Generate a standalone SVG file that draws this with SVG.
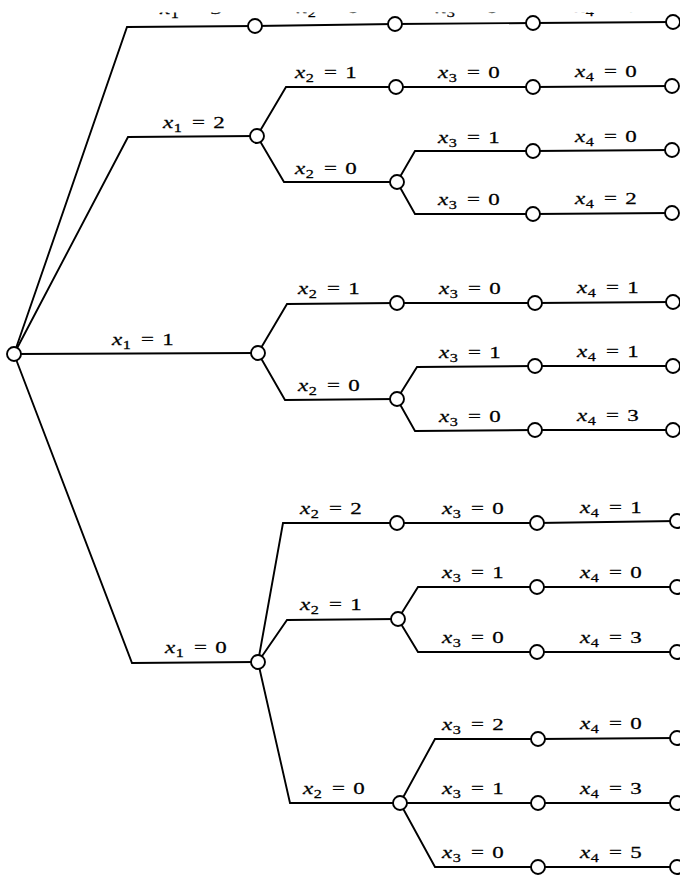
<svg xmlns="http://www.w3.org/2000/svg" width="680" height="876" viewBox="0 0 680 876">
<style>
.e{fill:none;stroke:#000;stroke-width:1.9;stroke-linejoin:miter}
.n{fill:#fff;stroke:#000;stroke-width:1.9}
.lb{font-family:"Liberation Serif","Times New Roman",serif;font-size:17px;fill:#000;stroke:#000;stroke-width:0.25}
.v{font-style:italic}
.s{font-size:12px}
</style>
<defs>
<clipPath id="topclip"><rect x="0" y="12.5" width="680" height="20"/></clipPath>
</defs>
<rect width="680" height="876" fill="#fff"/>
<g id="connectors">
<path class="e" d="M14,354 L127,27 L255,26"/>
<path class="e" d="M255,26 L395,24"/>
<path class="e" d="M395,24 L533,23"/>
<path class="e" d="M533,23 L673,22"/>
<path class="e" d="M14,354 L128,137 L257,136"/>
<path class="e" d="M257,136 L286,87 L396,87"/>
<path class="e" d="M396,87 L533,87"/>
<path class="e" d="M533,87 L672,86"/>
<path class="e" d="M257,136 L284,182 L397,182"/>
<path class="e" d="M397,182 L415,151 L533,151"/>
<path class="e" d="M533,151 L672,150"/>
<path class="e" d="M397,182 L415,214 L533,214"/>
<path class="e" d="M533,214 L672,213"/>
<path class="e" d="M14,354 L258,353"/>
<path class="e" d="M258,353 L287,304 L397,303"/>
<path class="e" d="M397,303 L535,303"/>
<path class="e" d="M535,303 L673,302"/>
<path class="e" d="M258,353 L285,400 L397,399"/>
<path class="e" d="M397,399 L417,367 L535,366"/>
<path class="e" d="M535,366 L673,366"/>
<path class="e" d="M397,399 L415,431 L535,430"/>
<path class="e" d="M535,430 L673,430"/>
<path class="e" d="M14,354 L132,663 L258,662"/>
<path class="e" d="M258,662 L283,523 L397,523"/>
<path class="e" d="M397,523 L537,523"/>
<path class="e" d="M537,523 L677,521"/>
<path class="e" d="M258,662 L287,620 L398,619"/>
<path class="e" d="M398,619 L418,587 L537,587"/>
<path class="e" d="M537,587 L677,587"/>
<path class="e" d="M398,619 L418,652 L537,652"/>
<path class="e" d="M537,652 L677,652"/>
<path class="e" d="M258,662 L290,803 L400,803"/>
<path class="e" d="M400,803 L435,739 L538,739"/>
<path class="e" d="M538,739 L677,738"/>
<path class="e" d="M400,803 L538,803"/>
<path class="e" d="M538,803 L677,803"/>
<path class="e" d="M400,803 L435,867 L538,867"/>
<path class="e" d="M538,867 L677,867"/>
</g>
<g id="labels">
<g clip-path="url(#topclip)">
<text class="lb" transform="translate(160,14) scale(1.35,1)"><tspan class="v">x</tspan><tspan class="s" dy="4" dx="0.5">1</tspan><tspan dy="-4" dx="7.5">=</tspan><tspan dx="6">3</tspan></text>
<text class="lb" transform="translate(297,13) scale(1.35,1)"><tspan class="v">x</tspan><tspan class="s" dy="4" dx="0.5">2</tspan><tspan dy="-4" dx="7.5">=</tspan><tspan dx="6">0</tspan></text>
<text class="lb" transform="translate(436,13) scale(1.35,1)"><tspan class="v">x</tspan><tspan class="s" dy="4" dx="0.5">3</tspan><tspan dy="-4" dx="7.5">=</tspan><tspan dx="6">0</tspan></text>
<text class="lb" transform="translate(575,12) scale(1.35,1)"><tspan class="v">x</tspan><tspan class="s" dy="4" dx="0.5">4</tspan><tspan dy="-4" dx="7.5">=</tspan><tspan dx="6">0</tspan></text>
</g>
<text class="lb" transform="translate(163,128) scale(1.35,1)"><tspan class="v">x</tspan><tspan class="s" dy="4" dx="0.5">1</tspan><tspan dy="-4" dx="7.5">=</tspan><tspan dx="6">2</tspan></text>
<text class="lb" transform="translate(295,78) scale(1.35,1)"><tspan class="v">x</tspan><tspan class="s" dy="4" dx="0.5">2</tspan><tspan dy="-4" dx="7.5">=</tspan><tspan dx="6">1</tspan></text>
<text class="lb" transform="translate(438,78) scale(1.35,1)"><tspan class="v">x</tspan><tspan class="s" dy="4" dx="0.5">3</tspan><tspan dy="-4" dx="7.5">=</tspan><tspan dx="6">0</tspan></text>
<text class="lb" transform="translate(575,77) scale(1.35,1)"><tspan class="v">x</tspan><tspan class="s" dy="4" dx="0.5">4</tspan><tspan dy="-4" dx="7.5">=</tspan><tspan dx="6">0</tspan></text>
<text class="lb" transform="translate(295,174) scale(1.35,1)"><tspan class="v">x</tspan><tspan class="s" dy="4" dx="0.5">2</tspan><tspan dy="-4" dx="7.5">=</tspan><tspan dx="6">0</tspan></text>
<text class="lb" transform="translate(438,143) scale(1.35,1)"><tspan class="v">x</tspan><tspan class="s" dy="4" dx="0.5">3</tspan><tspan dy="-4" dx="7.5">=</tspan><tspan dx="6">1</tspan></text>
<text class="lb" transform="translate(575,142) scale(1.35,1)"><tspan class="v">x</tspan><tspan class="s" dy="4" dx="0.5">4</tspan><tspan dy="-4" dx="7.5">=</tspan><tspan dx="6">0</tspan></text>
<text class="lb" transform="translate(438,205) scale(1.35,1)"><tspan class="v">x</tspan><tspan class="s" dy="4" dx="0.5">3</tspan><tspan dy="-4" dx="7.5">=</tspan><tspan dx="6">0</tspan></text>
<text class="lb" transform="translate(575,204) scale(1.35,1)"><tspan class="v">x</tspan><tspan class="s" dy="4" dx="0.5">4</tspan><tspan dy="-4" dx="7.5">=</tspan><tspan dx="6">2</tspan></text>
<text class="lb" transform="translate(112,345) scale(1.35,1)"><tspan class="v">x</tspan><tspan class="s" dy="4" dx="0.5">1</tspan><tspan dy="-4" dx="7.5">=</tspan><tspan dx="6">1</tspan></text>
<text class="lb" transform="translate(298,294) scale(1.35,1)"><tspan class="v">x</tspan><tspan class="s" dy="4" dx="0.5">2</tspan><tspan dy="-4" dx="7.5">=</tspan><tspan dx="6">1</tspan></text>
<text class="lb" transform="translate(439,294) scale(1.35,1)"><tspan class="v">x</tspan><tspan class="s" dy="4" dx="0.5">3</tspan><tspan dy="-4" dx="7.5">=</tspan><tspan dx="6">0</tspan></text>
<text class="lb" transform="translate(577,293) scale(1.35,1)"><tspan class="v">x</tspan><tspan class="s" dy="4" dx="0.5">4</tspan><tspan dy="-4" dx="7.5">=</tspan><tspan dx="6">1</tspan></text>
<text class="lb" transform="translate(298,391) scale(1.35,1)"><tspan class="v">x</tspan><tspan class="s" dy="4" dx="0.5">2</tspan><tspan dy="-4" dx="7.5">=</tspan><tspan dx="6">0</tspan></text>
<text class="lb" transform="translate(439,358) scale(1.35,1)"><tspan class="v">x</tspan><tspan class="s" dy="4" dx="0.5">3</tspan><tspan dy="-4" dx="7.5">=</tspan><tspan dx="6">1</tspan></text>
<text class="lb" transform="translate(577,357) scale(1.35,1)"><tspan class="v">x</tspan><tspan class="s" dy="4" dx="0.5">4</tspan><tspan dy="-4" dx="7.5">=</tspan><tspan dx="6">1</tspan></text>
<text class="lb" transform="translate(439,422) scale(1.35,1)"><tspan class="v">x</tspan><tspan class="s" dy="4" dx="0.5">3</tspan><tspan dy="-4" dx="7.5">=</tspan><tspan dx="6">0</tspan></text>
<text class="lb" transform="translate(577,421) scale(1.35,1)"><tspan class="v">x</tspan><tspan class="s" dy="4" dx="0.5">4</tspan><tspan dy="-4" dx="7.5">=</tspan><tspan dx="6">3</tspan></text>
<text class="lb" transform="translate(165,653) scale(1.35,1)"><tspan class="v">x</tspan><tspan class="s" dy="4" dx="0.5">1</tspan><tspan dy="-4" dx="7.5">=</tspan><tspan dx="6">0</tspan></text>
<text class="lb" transform="translate(300,514) scale(1.35,1)"><tspan class="v">x</tspan><tspan class="s" dy="4" dx="0.5">2</tspan><tspan dy="-4" dx="7.5">=</tspan><tspan dx="6">2</tspan></text>
<text class="lb" transform="translate(442,514) scale(1.35,1)"><tspan class="v">x</tspan><tspan class="s" dy="4" dx="0.5">3</tspan><tspan dy="-4" dx="7.5">=</tspan><tspan dx="6">0</tspan></text>
<text class="lb" transform="translate(580,513) scale(1.35,1)"><tspan class="v">x</tspan><tspan class="s" dy="4" dx="0.5">4</tspan><tspan dy="-4" dx="7.5">=</tspan><tspan dx="6">1</tspan></text>
<text class="lb" transform="translate(300,610) scale(1.35,1)"><tspan class="v">x</tspan><tspan class="s" dy="4" dx="0.5">2</tspan><tspan dy="-4" dx="7.5">=</tspan><tspan dx="6">1</tspan></text>
<text class="lb" transform="translate(442,578) scale(1.35,1)"><tspan class="v">x</tspan><tspan class="s" dy="4" dx="0.5">3</tspan><tspan dy="-4" dx="7.5">=</tspan><tspan dx="6">1</tspan></text>
<text class="lb" transform="translate(580,578) scale(1.35,1)"><tspan class="v">x</tspan><tspan class="s" dy="4" dx="0.5">4</tspan><tspan dy="-4" dx="7.5">=</tspan><tspan dx="6">0</tspan></text>
<text class="lb" transform="translate(442,643) scale(1.35,1)"><tspan class="v">x</tspan><tspan class="s" dy="4" dx="0.5">3</tspan><tspan dy="-4" dx="7.5">=</tspan><tspan dx="6">0</tspan></text>
<text class="lb" transform="translate(580,643) scale(1.35,1)"><tspan class="v">x</tspan><tspan class="s" dy="4" dx="0.5">4</tspan><tspan dy="-4" dx="7.5">=</tspan><tspan dx="6">3</tspan></text>
<text class="lb" transform="translate(303,794) scale(1.35,1)"><tspan class="v">x</tspan><tspan class="s" dy="4" dx="0.5">2</tspan><tspan dy="-4" dx="7.5">=</tspan><tspan dx="6">0</tspan></text>
<text class="lb" transform="translate(442,730) scale(1.35,1)"><tspan class="v">x</tspan><tspan class="s" dy="4" dx="0.5">3</tspan><tspan dy="-4" dx="7.5">=</tspan><tspan dx="6">2</tspan></text>
<text class="lb" transform="translate(580,729) scale(1.35,1)"><tspan class="v">x</tspan><tspan class="s" dy="4" dx="0.5">4</tspan><tspan dy="-4" dx="7.5">=</tspan><tspan dx="6">0</tspan></text>
<text class="lb" transform="translate(442,794) scale(1.35,1)"><tspan class="v">x</tspan><tspan class="s" dy="4" dx="0.5">3</tspan><tspan dy="-4" dx="7.5">=</tspan><tspan dx="6">1</tspan></text>
<text class="lb" transform="translate(580,794) scale(1.35,1)"><tspan class="v">x</tspan><tspan class="s" dy="4" dx="0.5">4</tspan><tspan dy="-4" dx="7.5">=</tspan><tspan dx="6">3</tspan></text>
<text class="lb" transform="translate(442,858) scale(1.35,1)"><tspan class="v">x</tspan><tspan class="s" dy="4" dx="0.5">3</tspan><tspan dy="-4" dx="7.5">=</tspan><tspan dx="6">0</tspan></text>
<text class="lb" transform="translate(580,858) scale(1.35,1)"><tspan class="v">x</tspan><tspan class="s" dy="4" dx="0.5">4</tspan><tspan dy="-4" dx="7.5">=</tspan><tspan dx="6">5</tspan></text>
</g>
<g id="nodes">
<g id="n-root"><circle class="n" cx="14" cy="354" r="7"/></g>
<g id="n-a"><circle class="n" cx="255" cy="26" r="7"/></g>
<g id="n-a2"><circle class="n" cx="395" cy="24" r="7"/></g>
<g id="n-a3"><circle class="n" cx="533" cy="23" r="7"/></g>
<g id="n-a4"><circle class="n" cx="673" cy="22" r="7"/></g>
<g id="n-b"><circle class="n" cx="257" cy="136" r="7"/></g>
<g id="n-b1"><circle class="n" cx="396" cy="87" r="7"/></g>
<g id="n-b10"><circle class="n" cx="533" cy="87" r="7"/></g>
<g id="n-b100"><circle class="n" cx="672" cy="86" r="7"/></g>
<g id="n-b0"><circle class="n" cx="397" cy="182" r="7"/></g>
<g id="n-b01"><circle class="n" cx="533" cy="151" r="7"/></g>
<g id="n-b010"><circle class="n" cx="672" cy="150" r="7"/></g>
<g id="n-b00"><circle class="n" cx="533" cy="214" r="7"/></g>
<g id="n-b002"><circle class="n" cx="672" cy="213" r="7"/></g>
<g id="n-c"><circle class="n" cx="258" cy="353" r="7"/></g>
<g id="n-c1"><circle class="n" cx="397" cy="303" r="7"/></g>
<g id="n-c10"><circle class="n" cx="535" cy="303" r="7"/></g>
<g id="n-c101"><circle class="n" cx="673" cy="302" r="7"/></g>
<g id="n-c0"><circle class="n" cx="397" cy="399" r="7"/></g>
<g id="n-c01"><circle class="n" cx="535" cy="366" r="7"/></g>
<g id="n-c011"><circle class="n" cx="673" cy="366" r="7"/></g>
<g id="n-c00"><circle class="n" cx="535" cy="430" r="7"/></g>
<g id="n-c003"><circle class="n" cx="673" cy="430" r="7"/></g>
<g id="n-d"><circle class="n" cx="258" cy="662" r="7"/></g>
<g id="n-d2"><circle class="n" cx="397" cy="523" r="7"/></g>
<g id="n-d20"><circle class="n" cx="537" cy="523" r="7"/></g>
<g id="n-d201"><circle class="n" cx="677" cy="521" r="7"/></g>
<g id="n-d1"><circle class="n" cx="398" cy="619" r="7"/></g>
<g id="n-d11"><circle class="n" cx="537" cy="587" r="7"/></g>
<g id="n-d110"><circle class="n" cx="677" cy="587" r="7"/></g>
<g id="n-d10"><circle class="n" cx="537" cy="652" r="7"/></g>
<g id="n-d103"><circle class="n" cx="677" cy="652" r="7"/></g>
<g id="n-d0"><circle class="n" cx="400" cy="803" r="7"/></g>
<g id="n-d02"><circle class="n" cx="538" cy="739" r="7"/></g>
<g id="n-d020"><circle class="n" cx="677" cy="738" r="7"/></g>
<g id="n-d01"><circle class="n" cx="538" cy="803" r="7"/></g>
<g id="n-d013"><circle class="n" cx="677" cy="803" r="7"/></g>
<g id="n-d00"><circle class="n" cx="538" cy="867" r="7"/></g>
<g id="n-d005"><circle class="n" cx="677" cy="867" r="7"/></g>
</g>
</svg>
